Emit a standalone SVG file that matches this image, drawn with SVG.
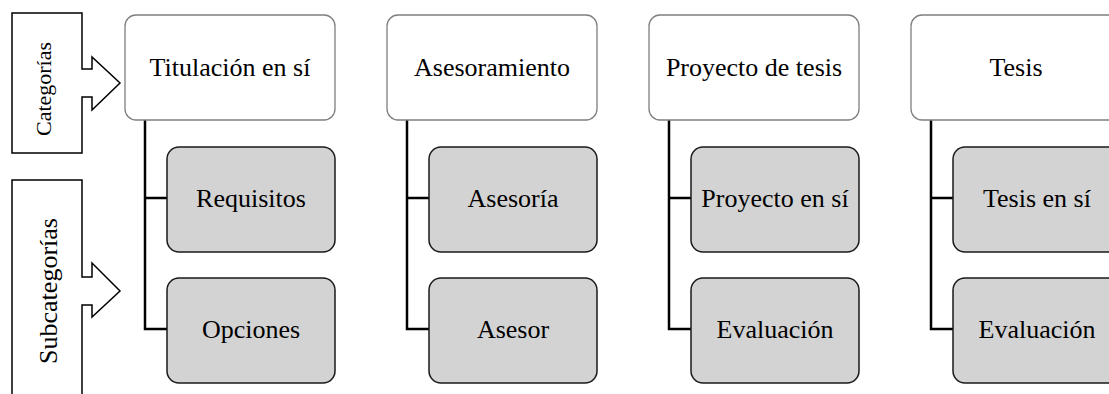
<svg xmlns="http://www.w3.org/2000/svg" width="1109" height="394" viewBox="0 0 1109 394">
<style>
text{font-family:"Liberation Serif","Times New Roman",serif;fill:#000;text-anchor:middle}
.lbl{font-size:26px}
.cat{fill:#fff;stroke:#7f7f7f;stroke-width:1.3}
.sub{fill:#d3d3d3;stroke:#1a1a1a;stroke-width:1.5}
.side{fill:#fff;stroke:#000;stroke-width:1.5}
.con{fill:none;stroke:#000;stroke-width:2.5}
</style>
<rect width="1109" height="394" fill="#fff"/>
<g id="side-categorias">
<path class="side" d="M12,13 H82 V69 H92 V57 L120,83 L92,110 V97 H82 V153 H12 Z"/>
<text transform="translate(51,89) rotate(-90)" style="font-size:22px">Categorías</text>
</g>
<g id="side-subcategorias">
<path class="side" d="M12,400 V180 H82 V277 H92 V263 L120,291 L92,317 V305 H82 V400"/>
<text transform="translate(57,291) rotate(-90)" class="lbl">Subcategorías</text>
</g>
<g id="connectors">
<path class="con" d="M145,120 V329 H167 M145,198 H167"/>
<path class="con" d="M407,120 V329 H429 M407,198 H429"/>
<path class="con" d="M669,120 V329 H691 M669,198 H691"/>
<path class="con" d="M931,120 V329 H953 M931,198 H953"/>
</g>
<g id="cat1"><rect class="cat" x="125" y="15" width="210" height="105" rx="11"/><text class="lbl" x="230" y="76">Titulación en sí</text></g>
<g id="sub1a"><rect class="sub" x="167" y="147" width="168" height="105" rx="12"/><text class="lbl" x="251" y="207">Requisitos</text></g>
<g id="sub1b"><rect class="sub" x="167" y="278" width="168" height="105" rx="12"/><text class="lbl" x="251" y="338">Opciones</text></g>
<g id="cat2"><rect class="cat" x="387" y="15" width="210" height="105" rx="11"/><text class="lbl" x="492" y="76">Asesoramiento</text></g>
<g id="sub2a"><rect class="sub" x="429" y="147" width="168" height="105" rx="12"/><text class="lbl" x="513" y="207">Asesoría</text></g>
<g id="sub2b"><rect class="sub" x="429" y="278" width="168" height="105" rx="12"/><text class="lbl" x="513" y="338">Asesor</text></g>
<g id="cat3"><rect class="cat" x="649" y="15" width="210" height="105" rx="11"/><text class="lbl" x="754" y="76">Proyecto de tesis</text></g>
<g id="sub3a"><rect class="sub" x="691" y="147" width="168" height="105" rx="12"/><text class="lbl" x="775" y="207">Proyecto en sí</text></g>
<g id="sub3b"><rect class="sub" x="691" y="278" width="168" height="105" rx="12"/><text class="lbl" x="775" y="338">Evaluación</text></g>
<g id="cat4"><rect class="cat" x="911" y="15" width="210" height="105" rx="11"/><text class="lbl" x="1016" y="76">Tesis</text></g>
<g id="sub4a"><rect class="sub" x="953" y="147" width="168" height="105" rx="12"/><text class="lbl" x="1037" y="207">Tesis en sí</text></g>
<g id="sub4b"><rect class="sub" x="953" y="278" width="168" height="105" rx="12"/><text class="lbl" x="1037" y="338">Evaluación</text></g>
</svg>
